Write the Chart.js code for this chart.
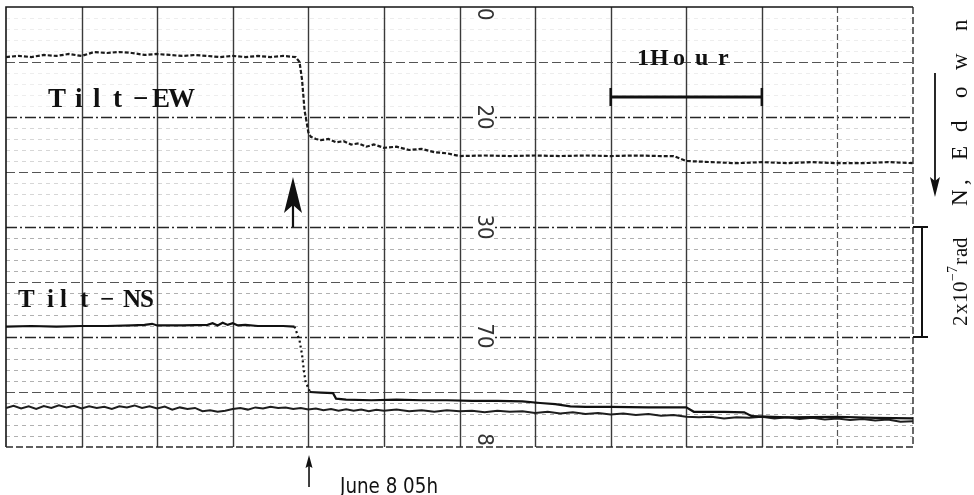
<!DOCTYPE html>
<html>
<head>
<meta charset="utf-8">
<script src="https://cdn.jsdelivr.net/npm/chart.js@4/dist/chart.umd.min.js"></script>
<style>
html,body{margin:0;padding:0;background:#fff;}
#wrap{width:974px;height:495px;position:relative;}
</style>
</head>
<body>
<div id="wrap"><canvas id="c"></canvas></div>
<script>
// time in minutes from the left edge of the record (30 min per division), event (June 8 05h) at 120
// tilt in chart divisions (0 = bottom edge, 40 = top edge)
const ewTime = [0,5,10,15,20,25,30,35,40,45,50,55,60,65,70,75,80,85,90,95,100,105,110,115,
  116.5,117.5,118.5,119.5,120,121,123,125,128,131,134,137,140,143,146,
  150,155,160,165,170,175,180,190,200,210,220,230,240,250,260,265,
  270,280,290,300,310,320,330,340,350,360];
const ewTilt = [35.45,35.55,35.45,35.64,35.55,35.73,35.55,35.91,35.82,35.91,35.82,35.64,35.73,35.64,35.55,35.64,35.55,35.45,35.55,35.45,35.55,35.45,35.55,35.45,
  35.0,33.4,30.6,29.3,28.6,28.2,28.0,27.9,28.0,27.7,27.8,27.5,27.6,27.3,27.5,
  27.2,27.3,27.0,27.1,26.8,26.7,26.45,26.5,26.45,26.5,26.45,26.5,26.45,26.5,26.45,26.45,
  26.0,25.9,25.8,25.9,25.8,25.9,25.8,25.8,25.9,25.8];

const nsTime = [0,10,20,30,40,50,55,58,60,70,80,82,84,86,88,90,92,95,100,105,110,114.5,
  116.5,117.5,118.3,119,120,120.6,125,129.8,131,135,145,155,165,175,185,195,205,
  212,218,224,230,240,255,270,273,285,293,296,310,330,345,360];
const nsTilt = [10.95,11.0,10.95,11.0,11.0,11.05,11.1,11.2,11.05,11.05,11.1,11.25,11.05,11.3,11.1,11.25,11.05,11.1,11.0,11.0,11.0,10.95,
  9.7,8.4,6.8,5.8,5.4,5.0,4.95,4.9,4.4,4.3,4.25,4.3,4.25,4.25,4.2,4.2,4.15,
  4.0,3.9,3.7,3.65,3.65,3.6,3.6,3.2,3.2,3.15,2.8,2.7,2.75,2.65,2.6];

const lowTime = [0,3,6,9,12,15,18,21,24,27,30,33,36,39,42,45,48,51,54,57,60,63,66,69,72,75,78,81,84,87,90,93,96,99,102,105,108,111,114,117,120,
  123,126,129,132,135,138,141,144,147,150,155,160,165,170,175,180,185,190,195,200,205,210,215,220,225,230,235,240,245,250,255,260,265,270,275,280,285,290,295,300,305,310,315,320,325,330,335,340,345,350,355,360];
const lowTilt = [3.55,3.75,3.5,3.7,3.45,3.72,3.55,3.8,3.6,3.75,3.5,3.7,3.55,3.65,3.45,3.7,3.6,3.78,3.55,3.7,3.5,3.68,3.4,3.6,3.45,3.55,3.25,3.35,3.2,3.3,3.45,3.55,3.4,3.6,3.5,3.65,3.55,3.6,3.45,3.55,3.4,
  3.5,3.35,3.45,3.3,3.42,3.3,3.4,3.25,3.38,3.3,3.4,3.25,3.35,3.2,3.35,3.25,3.3,3.15,3.3,3.2,3.25,3.1,3.2,3.05,3.15,3.0,3.1,2.95,3.05,2.9,3.0,2.85,2.9,2.75,2.7,2.75,2.6,2.7,2.65,2.75,2.6,2.7,2.55,2.65,2.5,2.6,2.45,2.55,2.4,2.5,2.3,2.35];

const xGrid = [0,30,60,90,120,150,180,210,240,270,300,330,360];
const paperLabels = ['10','20','30','70','80'];
const paperLevels = [39.9,30,20,10.1,0.1];
const hourStart = 240, hourEnd = 300;
const scaleTop = 20, scaleBottom = 10;

const serif = '"Liberation Serif","DejaVu Serif",serif';
const narrow = '"Liberation Sans Narrow","DejaVu Sans Condensed","Liberation Sans",sans-serif';

function arrow(ctx, xt, yt, xb, yb, len, w, notch, lw){
  const dx = xb-xt, dy = yb-yt, L = Math.hypot(dx,dy), ux = dx/L, uy = dy/L, px = -uy, py = ux;
  ctx.lineWidth = lw;
  ctx.beginPath(); ctx.moveTo(xt+ux*(len-notch), yt+uy*(len-notch)); ctx.lineTo(xb,yb); ctx.stroke();
  ctx.beginPath();
  ctx.moveTo(xt,yt);
  ctx.lineTo(xt+ux*len+px*w/2, yt+uy*len+py*w/2);
  ctx.lineTo(xt+ux*(len-notch), yt+uy*(len-notch));
  ctx.lineTo(xt+ux*len-px*w/2, yt+uy*len-py*w/2);
  ctx.closePath(); ctx.fill();
}

const paperPlugin = {
  id:'paper',
  beforeDatasetsDraw(chart){
    const {ctx, chartArea:a, scales:{x,y}} = chart;
    ctx.save();
    for(let v=1; v<40; v++){
      const py = Math.round(y.getPixelForValue(v))+0.5;
      let col, dash, lw;
      if(v%10===0){col='#262626';dash=[11,3,2,3];lw=1.3;}
      else if(v%5===0){col='#555';dash=[9,4];lw=1.1;}
      else {col = v>30?'#ededed':(v>20?'#d6d6d6':'#b0b0b0'); dash=[4,4]; lw=1;}
      ctx.strokeStyle=col; ctx.lineWidth=lw; ctx.setLineDash(dash);
      ctx.beginPath(); ctx.moveTo(a.left,py); ctx.lineTo(a.right,py); ctx.stroke();
    }
    xGrid.forEach((t,i)=>{
      if(i===0||i===xGrid.length-1) return;
      const px = Math.round(x.getPixelForValue(t))+0.5;
      if(i===11){ctx.setLineDash([6,3]);ctx.strokeStyle='#555';ctx.lineWidth=1.2;}
      else {ctx.setLineDash([]);ctx.strokeStyle='#3a3a3a';ctx.lineWidth=1.4;}
      ctx.beginPath(); ctx.moveTo(px,a.top); ctx.lineTo(px,a.bottom); ctx.stroke();
    });
    ctx.setLineDash([]); ctx.strokeStyle='#151515'; ctx.lineWidth=1.6;
    ctx.beginPath(); ctx.moveTo(a.left,a.bottom); ctx.lineTo(a.left,a.top); ctx.lineTo(a.right,a.top); ctx.stroke();
    ctx.setLineDash([7,3]); ctx.strokeStyle='#2a2a2a'; ctx.lineWidth=1.4;
    ctx.beginPath(); ctx.moveTo(a.left,a.bottom); ctx.lineTo(a.right,a.bottom); ctx.lineTo(a.right,a.top); ctx.stroke();
    ctx.setLineDash([]);
    ctx.beginPath(); ctx.rect(a.left+1,a.top+1,a.right-a.left-2,a.bottom-a.top-2); ctx.clip();
    const lx = x.getPixelForValue(189.7);
    ctx.font = '22px '+narrow;
    paperLabels.forEach((s,i)=>{
      const ly = y.getPixelForValue(paperLevels[i]);
      const w = ctx.measureText(s).width;
      ctx.fillStyle='#fff'; ctx.fillRect(lx-10, ly-w/2-2, 20, w+4);
      ctx.save(); ctx.translate(lx,ly); ctx.rotate(Math.PI/2);
      ctx.fillStyle='#333'; ctx.textAlign='center'; ctx.textBaseline='middle';
      ctx.fillText(s,0,0); ctx.restore();
    });
    ctx.restore();
  }
};

const annotPlugin = {
  id:'annot',
  afterDraw(chart){
    const {ctx, scales:{x,y}} = chart;
    const X = t=>x.getPixelForValue(t), Y = v=>y.getPixelForValue(v);
    ctx.save();
    ctx.fillStyle='#111'; ctx.strokeStyle='#111';
    const chars = (list, ts, v, font)=>{
      ctx.font=font; ctx.textBaseline='alphabetic'; ctx.textAlign='left';
      list.forEach((c,i)=>ctx.fillText(c, X(ts[i]), Y(v)));
    };
    chars(['T','i','l','t','\u2212','E','W'],[16.67,27.39,34.53,42.47,50.41,57.95,64.3],30.91,'bold 27px '+serif);
    chars(['T','i','l','t','\u2212','N','S'],[4.76,16.27,21.43,29.37,37.31,46.44,53.19],12.73,'bold 25px '+serif);
    chars(['1','H','o','u','r'],[250.45,255.61,264.74,273.48,282.6],34.73,'bold 24px '+serif);

    ctx.lineWidth=3; ctx.lineCap='butt';
    ctx.beginPath(); ctx.moveTo(X(hourStart),Y(31.82)); ctx.lineTo(X(hourEnd),Y(31.82)); ctx.stroke();
    ctx.lineWidth=2.5;
    [hourStart,hourEnd].forEach(t=>{ctx.beginPath();ctx.moveTo(X(t),Y(32.64));ctx.lineTo(X(t),Y(31.0));ctx.stroke();});

    arrow(ctx, X(113.91), Y(24.55), X(113.91), Y(20), 36, 18, 8, 2.2);
    arrow(ctx, X(120.27), Y(-0.727), X(120.27), Y(-3.636), 13, 7, 2, 1.6);
    ctx.save();
    ctx.font='22px '+narrow; ctx.textBaseline='alphabetic';
    const dt='June 8 05h', mw=ctx.measureText(dt).width;
    ctx.translate(X(132.57), Y(-4.18)); ctx.scale(98/mw,1); ctx.fillText(dt,0,0);
    ctx.restore();

    ctx.lineWidth=2;
    const sx = X(363.57);
    ctx.beginPath(); ctx.moveTo(sx,Y(scaleTop)); ctx.lineTo(sx,Y(scaleBottom)); ctx.stroke();
    [scaleTop,scaleBottom].forEach(v=>{ctx.beginPath();ctx.moveTo(X(360),Y(v));ctx.lineTo(X(365.95),Y(v));ctx.stroke();});
    arrow(ctx, X(368.73), Y(22.73), X(368.73), Y(34.0), 20, 10, 4, 1.8);

    const bx = X(381.43);
    ctx.save(); ctx.translate(bx, 0); ctx.rotate(-Math.PI/2);
    ctx.textBaseline='alphabetic'; ctx.textAlign='left';
    const side = [
      ['2',326,21,0],['x',314,21,0],['1',303,21,0],['0',292,21,0],
      ['\u2212',281,14,-10],['7',273,14,-10],
      ['r',265,21,0],['a',257,21,0],['d',248,21,0],
      ['N',206,23,0],[',',185,23,0],['E',160,23,0],
      ['d',132,23,0],['o',98,23,0],['w',70,23,0],['n',31,23,0]
    ];
    side.forEach(([c,yb,fs,dx])=>{ctx.font=fs+'px '+serif; ctx.fillText(c,-yb,dx);});
    ctx.restore();
    ctx.restore();
  }
};

const dropSeg = (lo,hi)=>ctx=>(ctx.p0.parsed.x>=lo && ctx.p1.parsed.x<=hi)?[2,3]:undefined;

new Chart(document.getElementById('c'), {
  type:'line',
  data:{datasets:[
    {label:'Tilt-EW', data:ewTime.map((t,i)=>({x:t,y:ewTilt[i]})), borderColor:'#1b1b1b', borderWidth:2.2, borderDash:[4,2], pointRadius:0, tension:0, fill:false},
    {label:'Tilt-NS', data:nsTime.map((t,i)=>({x:t,y:nsTilt[i]})), borderColor:'#111', borderWidth:2.2, pointRadius:0, tension:0, fill:false,
      segment:{borderDash:dropSeg(114.4,120.7)}},
    {label:'lower trace', data:lowTime.map((t,i)=>({x:t,y:lowTilt[i]})), borderColor:'#1e1e1e', borderWidth:2, pointRadius:0, tension:0, fill:false}
  ]},
  options:{
    responsive:true, maintainAspectRatio:false, animation:false, events:[],
    layout:{padding:{left:6,top:7,right:61,bottom:48}},
    scales:{
      x:{type:'linear',min:0,max:360,display:false},
      y:{type:'linear',min:0,max:40,display:false}
    },
    plugins:{legend:{display:false},tooltip:{enabled:false}}
  },
  plugins:[paperPlugin, annotPlugin]
});
</script>
</body>
</html>
